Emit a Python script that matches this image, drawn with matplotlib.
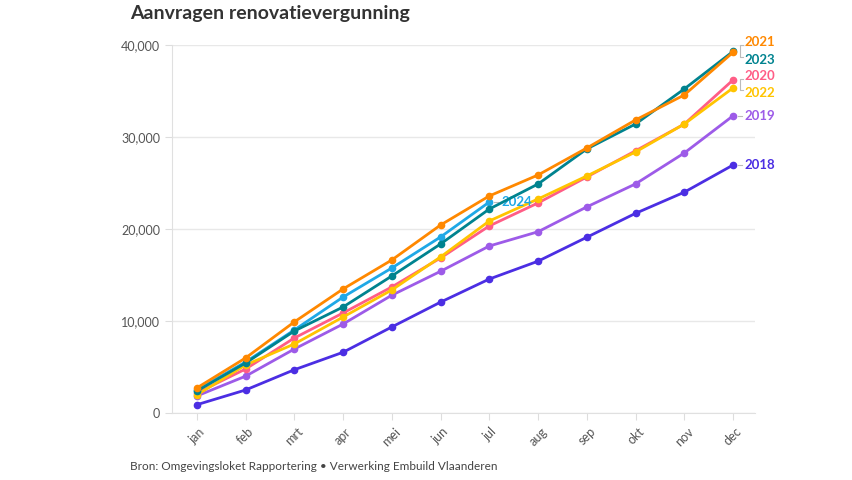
import matplotlib.pyplot as plt
from matplotlib.ticker import FuncFormatter

months = ["jan", "feb", "mrt", "apr", "mei", "jun", "jul", "aug", "sep", "okt", "nov", "dec"]

y2018 = [900, 2500, 4700, 6600, 9350, 12050, 14560, 16500, 19100, 21700, 24000, 26950]
y2019 = [1850, 4000, 6950, 9670, 12800, 15400, 18150, 19700, 22400, 24900, 28260, 32300]
y2020 = [2170, 4780, 8150, 10870, 13700, 16850, 20330, 22830, 25650, 28500, 31400, 36200]
y2021 = [2720, 5980, 9900, 13480, 16630, 20430, 23590, 25870, 28800, 31850, 34570, 39200]
y2022 = [1960, 5220, 7500, 10430, 13370, 16960, 20870, 23260, 25760, 28370, 31410, 35330]
y2023 = [2390, 5430, 8910, 11520, 14890, 18370, 22170, 24890, 28700, 31410, 35220, 39300]
y2024 = [2500, 5540, 9020, 12600, 15760, 19130, 22930]

series = [
    ("2018", y2018, "#4b2ee3"),
    ("2019", y2019, "#9d5be8"),
    ("2020", y2020, "#ff5d86"),
    ("2022", y2022, "#ffc400"),
    ("2024", y2024, "#1fa8e6"),
    ("2023", y2023, "#00838f"),
    ("2021", y2021, "#ff8800"),
]

# label positions so the end labels don't overlap
label_y = {"2021": 40300, "2023": 38400, "2020": 36600, "2022": 34800,
           "2019": 32300, "2018": 26950, "2024": 22930}

plt.rcParams['font.family'] = ['Lato', 'DejaVu Sans']

fig = plt.figure(figsize=(8.53, 4.8), dpi=100)
ax = fig.add_axes([0.2016, 0.1396, 0.6835, 0.7667])

for name, vals, col in series:
    x = list(range(len(vals)))
    ax.plot(x, vals, color=col, lw=2, marker="o", ms=4.5, zorder=3, clip_on=False)
    xe = x[-1]
    ye = vals[-1]
    ly = label_y[name]
    ax.text(xe + 0.24, ly, name, color=col, fontsize=9.5, fontweight="bold",
            va="center", ha="left", clip_on=False)
    if abs(ly - ye) < 400:
        ax.plot([xe + 0.1, xe + 0.18], [ye, ye], color="#bbbbbb", lw=0.8, clip_on=False)

# brackets for stacked labels
for top, bot in [(40300, 38400), (36600, 34800)]:
    xb = 11.14
    ax.plot([xb + 0.06, xb, xb, xb + 0.06], [top - 300, top - 300, bot + 300, bot + 300],
            color="#bbbbbb", lw=0.8, clip_on=False)

ax.set_xlim(-0.51, 11.45)
ax.set_ylim(0, 40000)
ax.set_xticks(range(12))
ax.set_xticklabels(months, rotation=45, ha="center", fontsize=9, color="#555555")
ax.set_yticks([0, 10000, 20000, 30000, 40000])
ax.yaxis.set_major_formatter(FuncFormatter(lambda v, p: f"{int(v):,}"))
ax.tick_params(axis="y", labelsize=9, labelcolor="#555555", color="#dddddd", length=5)
ax.tick_params(axis="x", color="#dddddd", length=5, pad=4)
ax.grid(axis="y", color="#e8e8e8", lw=1)
ax.set_axisbelow(True)
for s in ["top", "right"]:
    ax.spines[s].set_visible(False)
ax.spines["left"].set_color("#e0e0e0")
ax.spines["bottom"].set_color("#e0e0e0")

fig.text(130 / 853, 1 - 14 / 480, "Aanvragen renovatievergunning", fontsize=14,
         fontweight="bold", color="#333333", va="center", ha="left")
fig.text(130 / 853, 1 - 467 / 480, "Bron: Omgevingsloket Rapportering \u2022 Verwerking Embuild Vlaanderen",
         fontsize=8.5, color="#444444", va="center", ha="left")

fig.savefig("out.png", dpi=100)
